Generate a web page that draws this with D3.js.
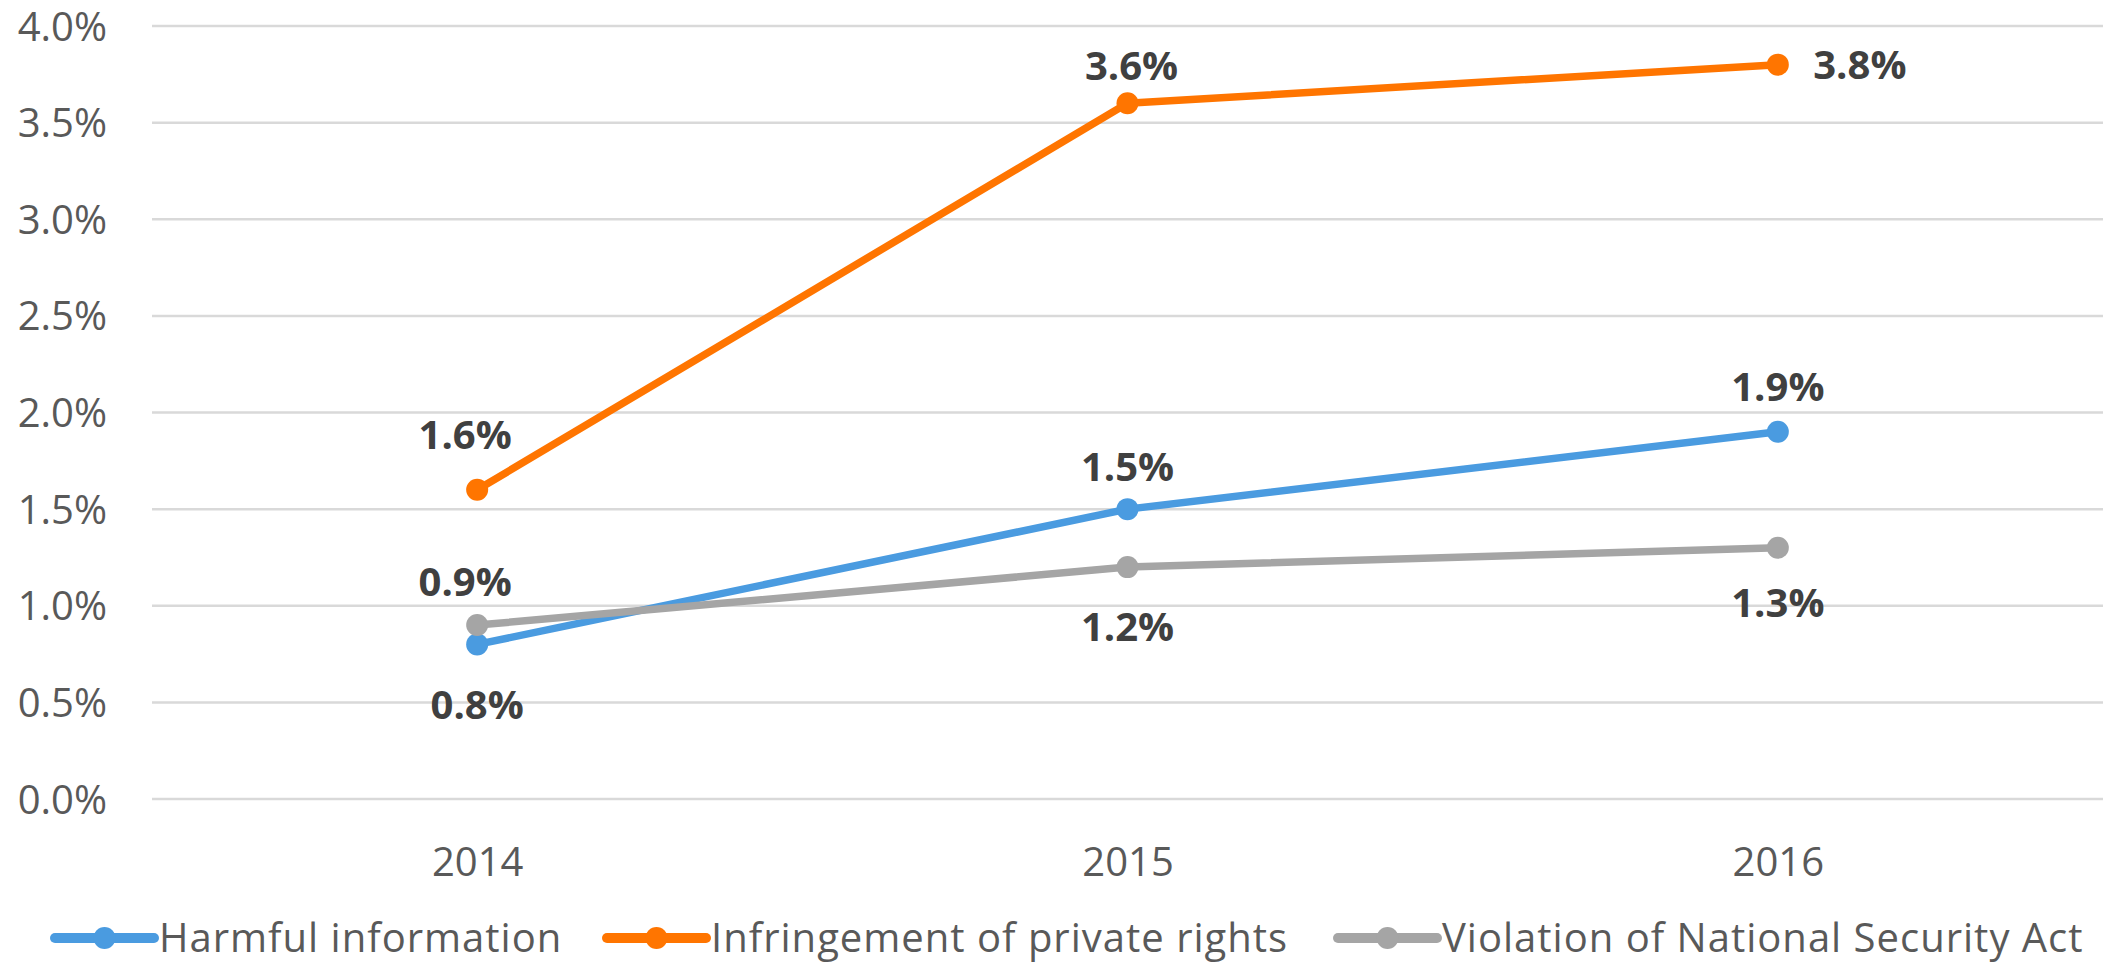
<!DOCTYPE html>
<html>
<head>
<meta charset="utf-8">
<script src="https://cdn.jsdelivr.net/npm/d3@7/dist/d3.min.js"></script>
<style>
  html, body { margin: 0; padding: 0; background: #ffffff; }
  svg { display: block; font-family: "Open Sans", "Noto Sans", sans-serif; }
</style>
</head>
<body>
<svg id="chart" width="2128" height="965"></svg>
<script>
// ---- data ----
const categories = ["2014", "2015", "2016"];
const seriesNames = ["Harmful information", "Infringement of private rights", "Violation of National Security Act"];
const harmful = [0.8, 1.5, 1.9];
const privateRights = [1.6, 3.6, 3.8];
const nationalSecurity = [0.9, 1.2, 1.3];
const yTicks = [0, 0.5, 1.0, 1.5, 2.0, 2.5, 3.0, 3.5, 4.0];
const colors = ["#4A9BE0", "#FF7500", "#A5A5A5"];

// label placement (offsets of label centre from point, px)
const labelOffsets = [
  [[0, 61], [0, -42], [0, -45]],
  [[-12, -55], [4, -37], [82, 0]],
  [[-12, -43], [0, 60], [0, 55]]
];

const seriesValues = [harmful, privateRights, nationalSecurity];
const series = seriesNames.map((name, i) => ({
  name, color: colors[i], values: seriesValues[i], offsets: labelOffsets[i]
}));

const svg = d3.select("#chart");
const plotLeft = 152, plotRight = 2103, plotTop = 26, plotBottom = 799;

const x = d3.scalePoint().domain(categories).range([plotLeft, plotRight]).padding(0.5);
const y = d3.scaleLinear().domain([0, 4]).range([plotBottom, plotTop]);

// gridlines
svg.append("g").selectAll("line").data(yTicks).join("line")
  .attr("x1", plotLeft).attr("x2", plotRight)
  .attr("y1", d => y(d)).attr("y2", d => y(d))
  .attr("stroke", "#D9D9D9").attr("stroke-width", 2.5);

// y axis labels
const yAxis = d3.axisLeft(y).tickValues(yTicks).tickFormat(d => d3.format(".1f")(d) + "%").tickSize(0).tickPadding(0);
const yg = svg.append("g").attr("transform", `translate(${107},0)`).call(yAxis);
yg.select(".domain").remove();
yg.selectAll("text").attr("font-size", 40).attr("fill", "#595959")
  .attr("font-family", "'Open Sans', sans-serif").attr("dy", "0.35em");

// x axis labels
const xAxis = d3.axisBottom(x).tickSize(0).tickPadding(0);
const xg = svg.append("g").attr("transform", `translate(0,${862})`).call(xAxis);
xg.select(".domain").remove();
xg.selectAll("text").attr("font-size", 40).attr("fill", "#595959")
  .attr("font-family", "'Open Sans', sans-serif").attr("dy", "0.35em").attr("y", 0);

// lines
const line = d3.line().x((d, i) => x(categories[i])).y(d => y(d));
const sg = svg.append("g").selectAll("g").data(series).join("g");
sg.append("path")
  .attr("d", d => line(d.values))
  .attr("fill", "none").attr("stroke", d => d.color)
  .attr("stroke-width", 7.5).attr("stroke-linejoin", "round").attr("stroke-linecap", "round");
sg.selectAll("circle").data(d => d.values.map(v => ({ v, color: d.color })))
  .join("circle")
  .attr("cx", (d, i) => x(categories[i])).attr("cy", d => y(d.v))
  .attr("r", 11).attr("fill", d => d.color);

// data labels
sg.selectAll("text.lbl").data(d => d.values.map((v, i) => ({ v, off: d.offsets[i], i })))
  .join("text").attr("class", "lbl")
  .attr("x", d => x(categories[d.i]) + d.off[0])
  .attr("y", d => y(d.v) + d.off[1])
  .attr("dy", "0.35em")
  .attr("text-anchor", "middle")
  .attr("font-size", 40).attr("font-weight", "bold").attr("fill", "#404040")
  .text(d => d3.format(".1f")(d.v) + "%");

// legend
const legendX = [55, 607, 1338];
const legendY = 938;
const lg = svg.append("g").selectAll("g").data(series).join("g")
  .attr("transform", (d, i) => `translate(${legendX[i]},${legendY})`);
lg.append("line").attr("x1", 0).attr("x2", 99).attr("y1", 0).attr("y2", 0)
  .attr("stroke", d => d.color).attr("stroke-width", 10).attr("stroke-linecap", "round");
lg.append("circle").attr("cx", 49.5).attr("cy", 0).attr("r", 11).attr("fill", d => d.color);
lg.append("text").attr("x", 104).attr("y", 0).attr("dy", "0.35em")
  .attr("font-size", 40).attr("letter-spacing", 1).attr("fill", "#595959").text(d => d.name);
</script>
</body>
</html>
